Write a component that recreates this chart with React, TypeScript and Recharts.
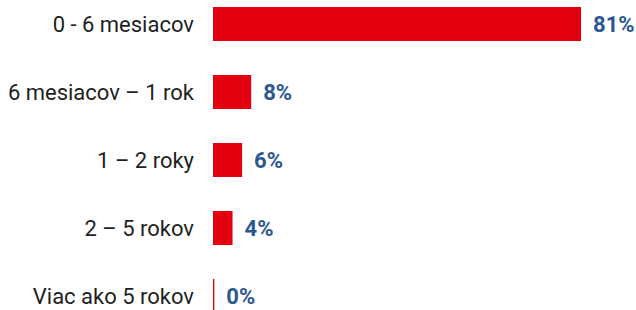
import { Bar, BarChart, Cell, LabelList, XAxis, YAxis } from "recharts";

const categories = [
  "0 - 6 mesiacov",
  "6 mesiacov – 1 rok",
  "1 – 2 roky",
  "2 – 5 rokov",
  "Viac ako 5 rokov",
];
const shares = [81, 8.4, 6.4, 4.3, 0.3];

const data = categories.map((name, i) => ({ name, value: shares[i] }));

const RED = "#e3000f";
const BLUE = "#2c5793";

export default function App() {
  return (
    <div style={{ position: "absolute", left: 0, top: -10 }}>
      <BarChart
        width={636}
        height={340}
        data={data}
        layout="vertical"
        margin={{ top: 0, right: 5, bottom: 0, left: 0 }}
        style={{ fontFamily: "Roboto, sans-serif" }}
      >
        <XAxis type="number" domain={[0, 92]} hide />
        <YAxis
          type="category"
          dataKey="name"
          width={213}
          axisLine={false}
          tickLine={false}
          tickMargin={13}
          tick={{ fill: "#1f1f1f", fontSize: 22 }}
        />
        <Bar dataKey="value" barSize={34} isAnimationActive={false}>
          {data.map((d) => (
            <Cell key={d.name} fill={RED} />
          ))}
          <LabelList
            dataKey="value"
            position="right"
            offset={12}
            formatter={(v: number) => `${Math.round(v)}%`}
            style={{ fill: BLUE, fontSize: 22, fontWeight: 700 }}
          />
        </Bar>
      </BarChart>
    </div>
  );
}
